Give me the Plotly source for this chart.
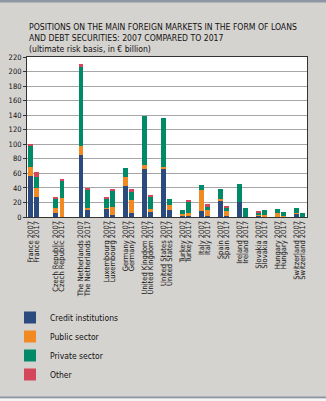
import plotly.graph_objects as go

# Countries, each with a 2007 and a 2017 bar
countries = ["France", "Czech Republic", "The Netherlands", "Luxembourg", "Germany",
             "United Kingdom", "United States", "Turkey", "Italy", "Spain",
             "Ireland", "Slovakia", "Hungary", "Switzerland"]
years = ["2007", "2017"]

# Exposure by counterparty sector (EUR billion), ordered country by country, 2007 then 2017
credit_institutions = [56, 28, 6, 0.5, 85, 9, 11, 3, 43, 6, 66, 7.5, 67, 10,
                       2, 2, 8.7, 2, 22, 2, 21, 0, 2.5, 0.3, 0.5, 0.3, 4.5, 0]
public_sector = [13, 12, 7, 26, 13, 4, 2, 11, 12, 18, 5.5, 4, 1.5, 7,
                 1.5, 3, 28.7, 8, 3, 5.7, 0, 0, 1.2, 2, 4.5, 1.7, 0.5, 0]
private_sector = [29, 15, 12, 23, 108, 25, 12, 23, 12.5, 11, 67, 15.5, 68, 8,
                  6.5, 16.5, 7, 4, 14, 5.3, 24.6, 12.7, 2.3, 8, 6.5, 5.3, 7.7, 6]
other = [2, 7, 1.5, 1.5, 4, 2, 3, 1.5, 0, 3, 0, 3.5, 0, 0,
         0, 1.3, 0, 4, 0, 2.5, 0, 0, 1.7, 0, 0, 0, 0, 0]

y_ticks = list(range(0, 221, 20))

# Empty slots left after each country pair (wider spacing for the first group)
gap_after = [2, 2, 2] + [1] * (len(countries) - 3)

x_pos, labels = [], []
slot = 0
for i, c in enumerate(countries):
    for yr in years:
        x_pos.append(slot)
        labels.append(f"{c} {yr}")
        slot += 1
    if i < len(countries) - 1:
        slot += gap_after[i]

series = [
    ("Credit institutions", credit_institutions, "#2b4a7e"),
    ("Public sector", public_sector, "#f28a24"),
    ("Private sector", private_sector, "#008a68"),
    ("Other", other, "#d4475a"),
]

fig = go.Figure()
for name, vals, col in series:
    fig.add_trace(go.Bar(
        x=x_pos, y=vals, name=name, legendgroup=name,
        marker=dict(color=col, line=dict(width=0)),
        width=0.74,
    ))

font_family = "Liberation Sans Narrow, DejaVu Sans Condensed, Liberation Sans, sans-serif"

W, H = 326, 401
ML, MR, MT, MB = 27, 19, 57, 184
plot_w, plot_h = W - ML - MR, H - MT - MB


def px_x(px):
    return (px - ML) / plot_w


def px_y(px):
    return (H - MB - px) / plot_h


fig.update_layout(
    width=W, height=H,
    barmode="stack",
    paper_bgcolor="#d5d3d0",
    plot_bgcolor="#ffffff",
    margin=dict(l=ML, r=MR, t=MT, b=MB, pad=0, autoexpand=False),
    font=dict(family=font_family, size=7, color="#111111"),
    showlegend=True,
    legend=dict(
        traceorder="normal",
        orientation="v",
        xref="paper", yref="paper",
        x=px_x(10), y=px_y(303), xanchor="left", yanchor="top",
        bgcolor="rgba(0,0,0,0)",
        font=dict(family=font_family, size=8.5, color="#111111"),
        tracegroupgap=4,
        itemwidth=30,
    ),
    xaxis=dict(
        range=[-0.5, slot - 0.5 + 0.2],
        tickmode="array", tickvals=x_pos, ticktext=labels,
        tickangle=-90,
        tickfont=dict(size=7.5, color="#111111"),
        showgrid=False, zeroline=False,
        showline=True, linecolor="#333333", linewidth=1, mirror=True,
        ticks="", ticklen=0, automargin=False,
    ),
    yaxis=dict(
        range=[0, 220],
        tickmode="array", tickvals=y_ticks,
        tickfont=dict(size=7.5, color="#111111"),
        showgrid=True, gridcolor="#a6a6a6", gridwidth=1.4,
        zeroline=False,
        showline=True, linecolor="#333333", linewidth=1, mirror=True,
        ticks="outside", ticklen=3, tickcolor="#333333", automargin=False,
    ),
    annotations=[dict(
        xref="paper", yref="paper", x=px_x(27), y=px_y(19.5),
        xanchor="left", yanchor="top", align="left", showarrow=False,
        text=("POSITIONS ON THE MAIN FOREIGN MARKETS IN THE FORM OF LOANS<br>"
              "AND DEBT SECURITIES: 2007 COMPARED TO 2017<br>"
              "(ultimate risk basis, in \u20ac billion)"),
        font=dict(family=font_family, size=8.6, color="#111111"),
    )],
    shapes=[
        # thin frame strip along the top edge
        dict(type="rect", xref="paper", yref="paper",
             x0=px_x(-5), x1=px_x(W + 5), y0=px_y(2.5), y1=px_y(-2),
             fillcolor="#8e96a4", line=dict(width=0), layer="below"),
        # rule and white strip along the bottom edge
        dict(type="rect", xref="paper", yref="paper",
             x0=px_x(-5), x1=px_x(W + 5), y0=px_y(398.5), y1=px_y(396.5),
             fillcolor="#8e96a4", line=dict(width=0), layer="below"),
        dict(type="rect", xref="paper", yref="paper",
             x0=px_x(-5), x1=px_x(W + 5), y0=px_y(H + 3), y1=px_y(398.5),
             fillcolor="#f4f4f4", line=dict(width=0), layer="below"),
    ],
)

fig.write_html("out.html")
